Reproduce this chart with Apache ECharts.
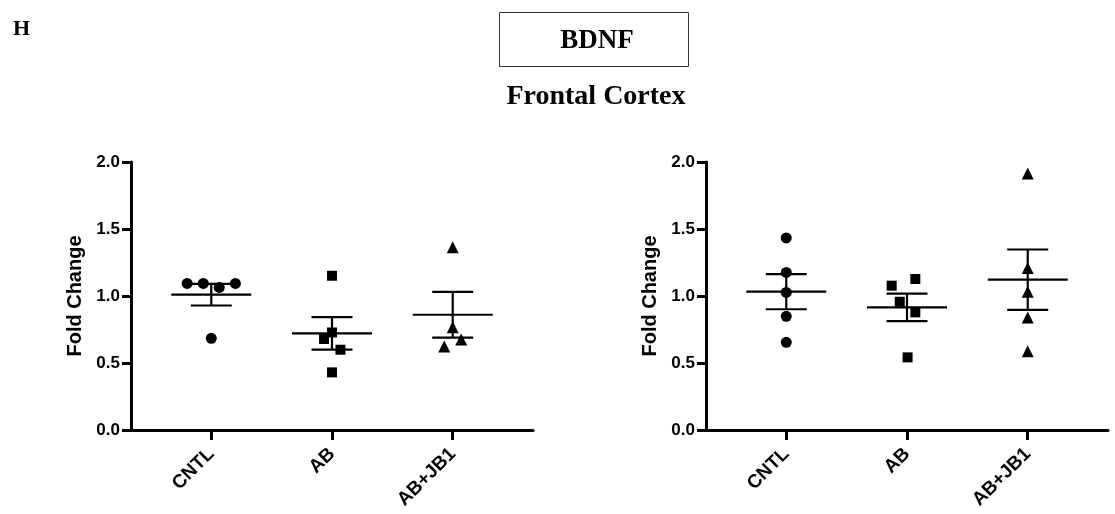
<!DOCTYPE html>
<html>
<head>
<meta charset="utf-8">
<script src="https://cdn.jsdelivr.net/npm/echarts@6/dist/echarts.min.js"></script>
<style>
html,body{margin:0;padding:0;background:#fff;}
#chart{width:1115px;height:514px;}
</style>
</head>
<body>
<div id="chart"></div>
<script>
// ---- data ----
const categories = ['CNTL', 'AB', 'AB+JB1'];
const yTicks = [0, 0.5, 1.0, 1.5, 2.0];

// Left panel individual values and horizontal jitter (category units)
const leftCntl = [1.094, 1.094, 1.064, 1.094, 0.684];
const leftCntlJit = [-0.2, -0.066, 0.066, 0.2, 0];
const leftAb = [1.151, 0.728, 0.679, 0.599, 0.43];
const leftAbJit = [0, 0, -0.066, 0.07, 0];
const leftAbJb1 = [1.363, 0.766, 0.676, 0.624];
const leftAbJb1Jit = [0, 0, 0.07, -0.07];
const leftMean = [1.01, 0.721, 0.86];
const leftSem = [0.081, 0.121, 0.171];

// Right panel
const rightCntl = [1.433, 1.176, 1.027, 0.848, 0.654];
const rightCntlJit = [0, 0, 0, 0, 0];
const rightAb = [1.077, 1.127, 0.957, 0.878, 0.542];
const rightAbJit = [-0.127, 0.069, -0.06, 0.069, 0.005];
const rightAbJb1 = [1.915, 1.209, 1.032, 0.84, 0.587];
const rightAbJb1Jit = [0, 0, 0, 0, 0];
const rightMean = [1.032, 0.915, 1.122];
const rightSem = [0.131, 0.103, 0.225];

// ---- build ----
const chart = echarts.init(document.getElementById('chart'), null, {renderer: 'canvas'});
const sans = 'Liberation Sans, Arial, sans-serif';
const serif = 'Liberation Serif, Times New Roman, serif';

function pts(group, vals, jit) {
  return vals.map((v, i) => [group + 1 + jit[i], v]);
}

function xAxisDef(idx) {
  return {
    type: 'value', gridIndex: idx, min: 0.335, max: 3.665,
    axisLine: {show: true, lineStyle: {color: '#000', width: 3}},
    axisTick: {show: true, customValues: [1, 2, 3], length: 10, lineStyle: {color: '#000', width: 3}},
    axisLabel: {
      show: true, customValues: [1, 2, 3], rotate: 45, margin: 21,
      formatter: v => categories[Math.round(v) - 1],
      color: '#000', fontFamily: sans, fontWeight: 'bold', fontSize: 19
    },
    splitLine: {show: false}
  };
}
function yAxisDef(idx) {
  return {
    type: 'value', gridIndex: idx, min: yTicks[0], max: yTicks[yTicks.length - 1], interval: 0.5,
    name: 'Fold Change', nameLocation: 'middle', nameGap: 46,
    nameTextStyle: {color: '#000', fontFamily: sans, fontWeight: 'bold', fontSize: 20},
    axisLine: {show: true, lineStyle: {color: '#000', width: 3}},
    axisTick: {show: true, length: 9, lineStyle: {color: '#000', width: 3}},
    axisLabel: {
      color: '#000', fontFamily: sans, fontWeight: 'bold', fontSize: 17, margin: 11,
      formatter: v => v.toFixed(1)
    },
    splitLine: {show: false}
  };
}

function errSeries(idx, mean, sem) {
  return {
    type: 'custom', xAxisIndex: idx, yAxisIndex: idx, z: 3,
    data: mean.map((m, i) => [i + 1, m, sem[i]]),
    renderItem: function (params, api) {
      const x = api.value(0), m = api.value(1), s = api.value(2);
      const c = api.coord([x, m]);
      const top = api.coord([x, m + s]);
      const bot = api.coord([x, m - s]);
      const st = {stroke: '#000', lineWidth: 2.2};
      return {
        type: 'group',
        children: [
          {type: 'line', shape: {x1: c[0] - 40, y1: c[1], x2: c[0] + 40, y2: c[1]}, style: st},
          {type: 'line', shape: {x1: c[0], y1: top[1], x2: c[0], y2: bot[1]}, style: st},
          {type: 'line', shape: {x1: c[0] - 20.5, y1: top[1], x2: c[0] + 20.5, y2: top[1]}, style: st},
          {type: 'line', shape: {x1: c[0] - 20.5, y1: bot[1], x2: c[0] + 20.5, y2: bot[1]}, style: st}
        ]
      };
    }
  };
}
function scat(idx, data, symbol, size) {
  return {
    type: 'scatter', xAxisIndex: idx, yAxisIndex: idx, z: 4,
    symbol: symbol, symbolSize: size, data: data,
    itemStyle: {color: '#000', opacity: 1}
  };
}

const option = {
  backgroundColor: '#fff',
  animation: false,
  grid: [
    {left: 131, right: 582, top: 162, bottom: 84, containLabel: false},
    {left: 706, right: 7, top: 162, bottom: 84, containLabel: false}
  ],
  xAxis: [xAxisDef(0), xAxisDef(1)],
  yAxis: [yAxisDef(0), yAxisDef(1)],
  graphic: [
    {type: 'text', left: 13, top: 18, style: {text: 'H', font: 'bold 22px ' + serif, fill: '#000'}},
    {type: 'rect', shape: {x: 499.5, y: 12.5, width: 189, height: 54}, style: {fill: 'none', stroke: '#333', lineWidth: 1}},
    {type: 'text', x: 597, y: 41, style: {text: 'BDNF', font: 'bold 27px ' + serif, fill: '#000', align: 'center', verticalAlign: 'middle'}},
    {type: 'text', x: 596, y: 97, style: {text: 'Frontal Cortex', font: 'bold 28px ' + serif, fill: '#000', align: 'center', verticalAlign: 'middle'}}
  ],
  series: [
    errSeries(0, leftMean, leftSem),
    scat(0, pts(0, leftCntl, leftCntlJit), 'circle', 11),
    scat(0, pts(1, leftAb, leftAbJit), 'rect', 10),
    scat(0, pts(2, leftAbJb1, leftAbJb1Jit), 'triangle', 12),
    errSeries(1, rightMean, rightSem),
    scat(1, pts(0, rightCntl, rightCntlJit), 'circle', 11),
    scat(1, pts(1, rightAb, rightAbJit), 'rect', 10),
    scat(1, pts(2, rightAbJb1, rightAbJb1Jit), 'triangle', 12)
  ]
};
chart.setOption(option);
</script>
</body>
</html>
